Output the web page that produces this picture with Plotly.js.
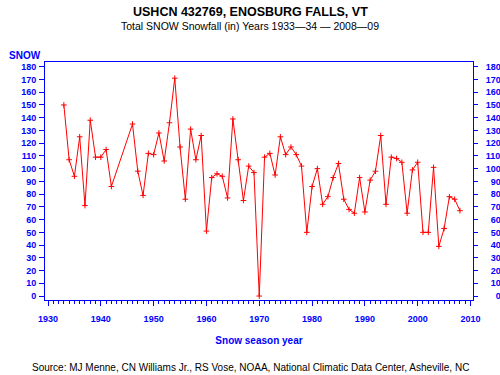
<!DOCTYPE html>
<html>
<head>
<meta charset="utf-8">
<script src="https://cdn.plot.ly/plotly-3.0.1.min.js"></script>
<style>html,body{margin:0;padding:0;background:#fff;}#chart{width:500px;height:375px;}</style>
</head>
<body>
<div id="chart"></div>
<script>
// Snow season start years (1943-45 missing)
const years = [1933,1934,1935,1936,1937,1938,1939,1940,1941,1942,
  1946,1947,1948,1949,1950,1951,1952,1953,1954,1955,1956,1957,1958,1959,
  1960,1961,1962,1963,1964,1965,1966,1967,1968,1969,1970,1971,1972,1973,1974,
  1975,1976,1977,1978,1979,1980,1981,1982,1983,1984,1985,1986,1987,1988,1989,
  1990,1991,1992,1993,1994,1995,1996,1997,1998,1999,2000,2001,2002,2003,2004,
  2005,2006,2007,2008];
// Total snowfall (inches)
const snowfall = [150,107,94,125,71,138,109,109,115,86,
  135,98,79,112,111,128,106,136,171,117,76,131,107,126,
  51,93,96,94,77,139,107,75,102,97,0,109,112,95,125,
  111,117,111,102,50,86,100,72,78,93,104,76,68,65,93,
  66,91,98,126,72,109,108,105,65,99,105,50,50,101,39,
  53,78,76,67];
const xTicks = [1930,1940,1950,1960,1970,1980,1990,2000,2010];
const yTicks = [0,10,20,30,40,50,60,70,80,90,100,110,120,130,140,150,160,170,180];
const yTickTextRight = yTicks.map(v => String(v).padStart(3, '\u2007'));

const titleText = 'USHCN 432769, ENOSBURG FALLS, VT';
const subtitleText = 'Total SNOW Snowfall (in) Years 1933\u201434 \u2014 2008\u201409';
const yLabel = 'SNOW';
const xLabel = 'Snow season year';
const sourceText = 'Source: MJ Menne, CN Williams Jr., RS Vose, NOAA, National Climatic Data Center, Asheville, NC';

const L = 45, R = 473, T = 62, B = 300;
const px = x => (x - L) / (R - L);
const py = y => (B - y) / (B - T);
const BLUE = '#0000ff';
const tickFont = {family: 'Liberation Sans, Arial, sans-serif', size: 9, color: BLUE, weight: 'bold'};

const traces = [
  {x: years, y: snowfall, type: 'scatter', mode: 'lines+markers',
   line: {color: '#ff0000', width: 1},
   marker: {symbol: 'cross-thin', size: 4, line: {color: '#ff0000', width: 1}, color: '#ff0000'},
   hoverinfo: 'x+y', showlegend: false},
  {x: [], y: [], yaxis: 'y2', type: 'scatter', mode: 'lines', showlegend: false, hoverinfo: 'skip'}
];

const layout = {
  width: 500, height: 375,
  margin: {l: L, r: 500 - R, t: T, b: 375 - B, pad: 0},
  paper_bgcolor: '#ffffff', plot_bgcolor: '#ffffff',
  showlegend: false,
  xaxis: {
    range: [1929.43, 2010.47], tickmode: 'array', tickvals: xTicks, ticktext: xTicks.map(String),
    ticks: 'outside', ticklen: 5, tickwidth: 1, tickcolor: BLUE,
    minor: {ticks: 'outside', tickmode: 'linear', tick0: 1930, dtick: 1, ticklen: 3, tickwidth: 1, tickcolor: BLUE, showgrid: false},
    showline: true, linecolor: BLUE, linewidth: 1, mirror: true,
    showgrid: false, zeroline: false, tickfont: tickFont, ticklabelstandoff: 5,
    title: {text: xLabel, font: {family: 'Liberation Sans, Arial, sans-serif', size: 10, color: BLUE, weight: 'bold'}, standoff: 14}
  },
  yaxis: {
    range: [-3.1, 183.7], tickmode: 'array', tickvals: yTicks, ticktext: yTicks.map(String),
    ticks: 'outside', ticklen: 5, tickwidth: 1, tickcolor: BLUE,
    showline: true, linecolor: BLUE, linewidth: 1,
    showgrid: false, zeroline: false, tickfont: tickFont, ticklabelstandoff: 1
  },
  yaxis2: {
    overlaying: 'y', side: 'right',
    range: [-3.1, 183.7], tickmode: 'array', tickvals: yTicks, ticktext: yTickTextRight,
    ticks: 'outside', ticklen: 4, tickwidth: 1, tickcolor: BLUE,
    showline: true, linecolor: BLUE, linewidth: 1,
    showgrid: false, zeroline: false, tickfont: tickFont, ticklabelstandoff: 6
  },
  annotations: [
    {text: '<b>' + titleText + '</b>', xref: 'paper', yref: 'paper', x: px(250), y: py(12), xanchor: 'center', yanchor: 'middle', showarrow: false,
     font: {family: 'Liberation Sans, Arial, sans-serif', size: 12.5, color: '#000'}},
    {text: subtitleText, xref: 'paper', yref: 'paper', x: px(250), y: py(26), xanchor: 'center', yanchor: 'middle', showarrow: false,
     font: {family: 'Liberation Sans, Arial, sans-serif', size: 10.5, color: '#000'}},
    {text: '<b>' + yLabel + '</b>', xref: 'paper', yref: 'paper', x: px(7), y: py(55), xanchor: 'left', yanchor: 'middle', showarrow: false,
     font: {family: 'Liberation Sans, Arial, sans-serif', size: 10, color: BLUE}},
    {text: sourceText, xref: 'paper', yref: 'paper', x: px(250), y: py(368), xanchor: 'center', yanchor: 'middle', showarrow: false,
     font: {family: 'Liberation Sans, Arial, sans-serif', size: 10, color: '#000'}}
  ]
};

Plotly.newPlot('chart', traces, layout, {displayModeBar: false, staticPlot: true});
</script>
</body>
</html>
